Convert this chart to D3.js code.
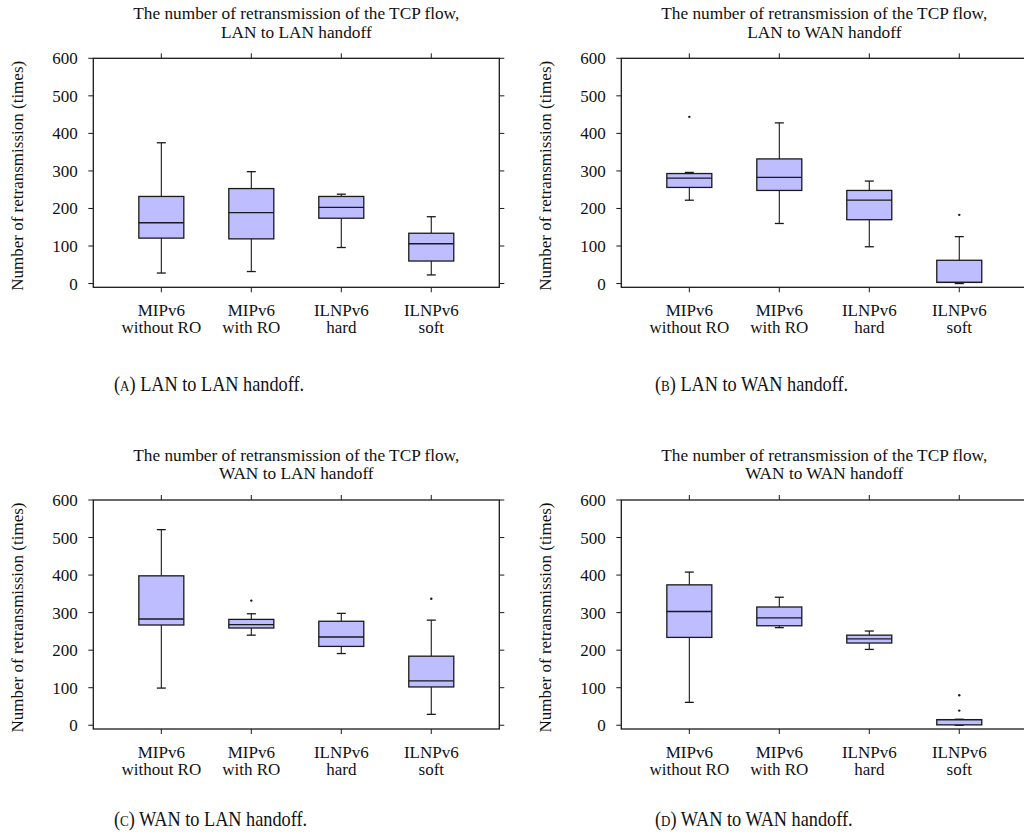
<!DOCTYPE html>
<html>
<head>
<meta charset="utf-8">
<script src="https://cdn.jsdelivr.net/npm/d3@7"></script>
<style>
  body { margin: 0; background: #fff; }
  svg { display: block; }
</style>
</head>
<body>
<svg id="chart" width="1024" height="839" font-family="'Liberation Serif', 'DejaVu Serif', serif"></svg>
<script>
// Category labels (two lines each)
const categoryTop = ["MIPv6", "MIPv6", "ILNPv6", "ILNPv6"];
const categoryBottom = ["without RO", "with RO", "hard", "soft"];
const yTicks = [0, 100, 200, 300, 400, 500, 600];

// Box statistics per category: [lower whisker, Q1, median, Q3, upper whisker]
const lanToLan = [
  [28, 121, 162, 232, 375],
  [32, 119, 189, 253, 298],
  [96, 174, 203, 232, 238],
  [23, 60, 106, 134, 178]
];
const lanToLanOutliers = [[], [], [], []];

const lanToWan = [
  [222, 256, 281, 293, 296],
  [160, 248, 283, 332, 428],
  [98, 170, 222, 248, 273],
  [0, 3, 3, 62, 125]
];
const lanToWanOutliers = [[444], [], [], [183]];

const wanToLan = [
  [99, 267, 283, 398, 521],
  [240, 259, 268, 282, 297],
  [191, 210, 235, 277, 298],
  [29, 102, 118, 184, 280]
];
const wanToLanOutliers = [[], [332], [], [337]];

const wanToWan = [
  [61, 234, 303, 374, 408],
  [260, 265, 286, 315, 341],
  [202, 219, 230, 240, 251],
  [0, 1, 15, 15, 16]
];
const wanToWanOutliers = [[], [], [], [39, 80]];

const titleLine1 = "The number of retransmission of the TCP flow,";
const titleLine2 = ["LAN to LAN handoff", "LAN to WAN handoff", "WAN to LAN handoff", "WAN to WAN handoff"];
const captionTags = ["A", "B", "C", "D"];
const captionTexts = ["LAN to LAN handoff.", "LAN to WAN handoff.", "WAN to LAN handoff.", "WAN to WAN handoff."];
const yLabel = "Number of retransmission (times)";

const svg = d3.select("#chart");
const W = 406, H = 229;
const boxFill = "#bdbdff";
const ink = "#1a1a1a";
const serif = "'Liberation Serif', 'DejaVu Serif', serif";

const x = d3.scaleLinear().domain([-0.756, 3.756]).range([0, W]);
const y = d3.scaleLinear().domain([-10, 600]).range([H, 0]);
const halfBox = (x(1) - x(0)) * 0.25;
const halfCap = (x(1) - x(0)) * 0.05;

const panels = [
  { left: 93.3,  top: 58.3, stats: lanToLan, outliers: lanToLanOutliers, capX: 114, capY: 391 },
  { left: 621.3, top: 58.3, stats: lanToWan, outliers: lanToWanOutliers, capX: 655, capY: 391 },
  { left: 93.3,  top: 500,  stats: wanToLan, outliers: wanToLanOutliers, capX: 114, capY: 826 },
  { left: 621.3, top: 500,  stats: wanToWan, outliers: wanToWanOutliers, capX: 655, capY: 826 }
];

function label(sel, size) {
  return sel.append("text").attr("font-family", serif).attr("font-size", size).attr("fill", "#111");
}

panels.forEach((p, pi) => {
  const g = svg.append("g").attr("transform", `translate(${p.left},${p.top})`);

  // two-line title, set slightly wide
  label(g, 16).attr("transform", `translate(${W / 2},-39.5) scale(1.08,1)`)
    .attr("text-anchor", "middle").text(titleLine1);
  label(g, 16).attr("transform", `translate(${W / 2},-20.8) scale(1.08,1)`)
    .attr("text-anchor", "middle").text(titleLine2[pi]);

  // y axis label
  label(g, 17).attr("transform", `translate(-70,${H / 2 + 3}) rotate(-90)`)
    .attr("text-anchor", "middle").text(yLabel);

  // ticks on all four sides, pointing outward
  const ticks = g.append("g").attr("stroke", ink).attr("stroke-width", 1);
  yTicks.forEach(t => {
    ticks.append("line").attr("x1", -5).attr("x2", 0).attr("y1", y(t)).attr("y2", y(t));
    ticks.append("line").attr("x1", W).attr("x2", W + 5).attr("y1", y(t)).attr("y2", y(t));
  });
  categoryTop.forEach((c, i) => {
    ticks.append("line").attr("x1", x(i)).attr("x2", x(i)).attr("y1", 0).attr("y2", -5);
    ticks.append("line").attr("x1", x(i)).attr("x2", x(i)).attr("y1", H).attr("y2", H + 5);
  });

  yTicks.forEach(t => {
    label(g, 17).attr("x", -15.5).attr("y", y(t) + 6).attr("text-anchor", "end").text(t);
  });

  // category labels
  categoryTop.forEach((c, i) => {
    label(g, 17).attr("x", x(i)).attr("y", H + 29).attr("text-anchor", "middle").text(c);
    label(g, 17).attr("x", x(i)).attr("y", H + 46).attr("text-anchor", "middle").text(categoryBottom[i]);
  });

  // boxes
  p.stats.forEach((s, i) => {
    const [lo, q1, med, q3, hi] = s;
    const cx = x(i);
    const b = g.append("g");
    b.append("line").attr("x1", cx).attr("x2", cx).attr("y1", y(q1)).attr("y2", y(lo))
      .attr("stroke", ink).attr("stroke-width", 1.1);
    b.append("line").attr("x1", cx).attr("x2", cx).attr("y1", y(q3)).attr("y2", y(hi))
      .attr("stroke", ink).attr("stroke-width", 1.1);
    [lo, hi].forEach(v => {
      b.append("line").attr("x1", cx - halfCap).attr("x2", cx + halfCap)
        .attr("y1", y(v)).attr("y2", y(v)).attr("stroke", ink).attr("stroke-width", 1.3);
    });
    b.append("rect").attr("x", cx - halfBox).attr("width", 2 * halfBox)
      .attr("y", y(q3)).attr("height", y(q1) - y(q3))
      .attr("fill", boxFill).attr("stroke", ink).attr("stroke-width", 1.3);
    b.append("line").attr("x1", cx - halfBox).attr("x2", cx + halfBox)
      .attr("y1", y(med)).attr("y2", y(med)).attr("stroke", ink).attr("stroke-width", 1.3);
    p.outliers[i].forEach(v => {
      b.append("circle").attr("cx", cx).attr("cy", y(v)).attr("r", 1.2).attr("fill", ink);
    });
  });

  // frame
  g.append("rect").attr("x", 0).attr("y", 0).attr("width", W).attr("height", H)
    .attr("fill", "none").attr("stroke", ink).attr("stroke-width", 1.3);

  // sub-figure caption with a small-capital tag, set slightly condensed
  const cap = label(svg, 21).attr("transform", `translate(${p.capX},${p.capY}) scale(0.87,1)`);
  cap.append("tspan").text("(");
  cap.append("tspan").attr("font-size", 15).text(captionTags[pi]);
  cap.append("tspan").text(") " + captionTexts[pi]);
});
</script>
</body>
</html>
